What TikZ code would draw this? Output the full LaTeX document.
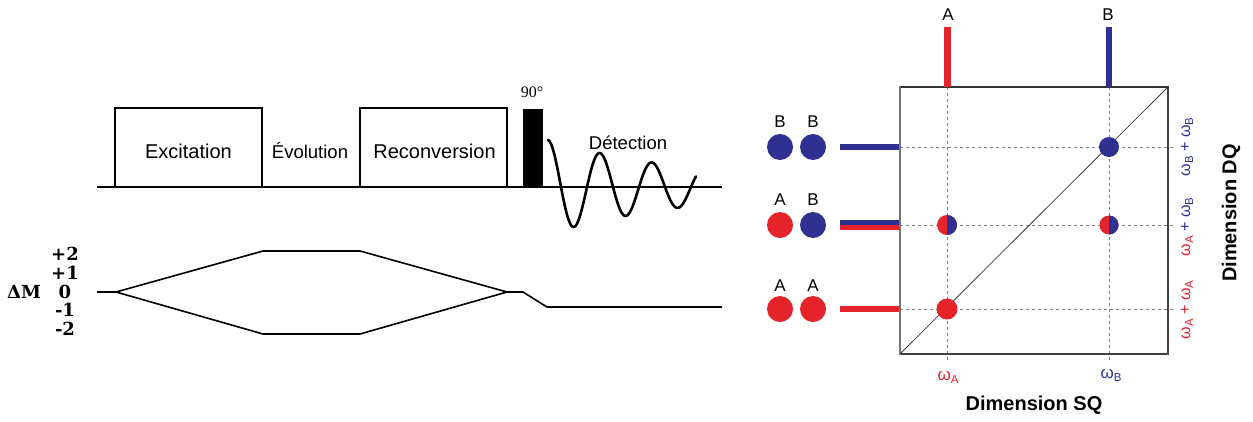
\documentclass[tikz,border=0pt]{standalone}
\usepackage{fontspec}
\setmainfont{Liberation Sans}
\newfontfamily\slabfont{DejaVu Serif}
\newfontfamily\tmsfont{Liberation Serif}
\definecolor{pred}{HTML}{E5232B}
\definecolor{pblue}{HTML}{2E3192}
\newcommand{\fsz}[1]{\fontsize{#1}{#1}\selectfont}
\newcommand{\om}[1]{ω\raisebox{-3pt}{\fsz{11.5}#1}}
\begin{document}
\begin{tikzpicture}[x=1pt,y=-1pt,
  txt/.style={inner sep=0pt, font=\fsz{20}},
  seqbox/.style={draw, line width=1.5pt, inner sep=0pt},
  seqline/.style={line width=1.6pt, line join=round},
  dmlbl/.style={inner sep=0pt, font=\slabfont\bfseries\fsz{18}},
  atomlbl/.style={inner sep=0pt, font=\fsz{17}},
  atom/.style={circle, inner sep=0pt, minimum size=26pt},
  guide/.style={draw=black!50, line width=0.8pt, dash pattern=on 3pt off 3pt},
  axlbl/.style={inner sep=0pt, font=\bfseries\fsz{20}},
  wlbl/.style={inner sep=0pt, font=\fsz{17}},
  sumlbl/.style={inner sep=0pt, font=\fsz{16}, rotate=90}
]
\useasboundingbox (0,0) rectangle (1253,421);

% ---------------- pulse sequence ----------------
\draw[seqline] (97,187) -- (722,187);
\draw[seqbox] (115,108) rectangle (262,187);
\draw[seqbox] (360,108) rectangle (507,187);
\node[txt] (exc) at (188.5,151.5) {Excitation};
\node[txt, font=\fsz{18.5}] (evo) at (310,151) {Évolution};
\node[txt] (rec) at (434.5,151.5) {Reconversion};
\fill (523,109) rectangle (543,187);
\node[inner sep=0pt, font=\tmsfont\fsz{16}] (p90) at (532,92) {90°};
\node[txt, font=\fsz{18.5}] (det) at (628,142.5) {Détection};
\draw[line width=2.6pt, line cap=round, domain=0:148, samples=160, smooth]
  plot ({548+\x},{187-47*exp(-\x/160)*cos(6.923*\x)});

% ---------------- coherence pathway ----------------
\coordinate (s0) at (97,292);
\coordinate (s1) at (116,292);
\coordinate (u1) at (263,251);
\coordinate (u2) at (360,251);
\coordinate (l1) at (263,334);
\coordinate (l2) at (360,334);
\coordinate (c1) at (507,292);
\coordinate (c2) at (523,292);
\coordinate (d1) at (547,307);
\coordinate (d2) at (722,307);
\draw[seqline] (s0) -- (s1) -- (u1) -- (u2) -- (c1) -- (c2) -- (d1) -- (d2);
\draw[seqline] (s1) -- (l1) -- (l2) -- (c1);
\node[dmlbl] (dm) at (24,292) {ΔM};
\node[dmlbl] (p2) at (65,254) {+2};
\node[dmlbl] (p1) at (65,273) {+1};
\node[dmlbl] (z0) at (65,292) {0};
\node[dmlbl] (m1) at (65,310) {-1};
\node[dmlbl] (m2) at (65,329) {-2};

% ---------------- 2D spectrum ----------------
% guides
\draw[guide] (947,87) -- (947,362);
\draw[guide] (1109,87) -- (1109,362);
\draw[guide] (900,147) -- (1173,147);
\draw[guide] (900,225) -- (1173,225);
\draw[guide] (900,309) -- (1173,309);
% frame
\draw[line width=1.5pt, draw=black!75] (900,87) rectangle (1168,354);
\draw[line width=2.5pt, draw=black!80] (899,87) -- (1168,87);
\draw[line width=2.8pt, draw=black!55] (900,86) -- (900,355);
\draw[line width=0.8pt, draw=black!75] (900,354) -- (1168,87);

% top projection
\draw[pred, line width=7pt] (947,27) -- (947,87);
\draw[pblue, line width=6pt] (1109,27) -- (1109,87);
\node[atomlbl] (tA) at (948,15) {A};
\node[atomlbl] (tB) at (1108,15) {B};

% left projection bars
\draw[pblue, line width=6pt] (840,147) -- (899,147);
\draw[pred, line width=5.5pt] (840,226.75) -- (899,226.75);
\draw[pblue, line width=5pt] (840,222) -- (899,222);
\draw[pred, line width=6pt] (840,309) -- (899,309);

% atom pairs
\node[atom, fill=pblue] (bb1) at (780,147) {};
\node[atom, fill=pblue] (bb2) at (813,147) {};
\node[atomlbl] at (780,121.5) {B};
\node[atomlbl] at (813,121.5) {B};
\node[atom, fill=pred] (ab1) at (780,225) {};
\node[atom, fill=pblue] (ab2) at (813,225) {};
\node[atomlbl] at (780,200) {A};
\node[atomlbl] at (813,200) {B};
\node[atom, fill=pred] (aa1) at (780,309) {};
\node[atom, fill=pred] (aa2) at (813,309) {};
\node[atomlbl] at (780,285.5) {A};
\node[atomlbl] at (813,285.5) {A};

% cross peaks
\fill[pblue] (1109,147) circle (10);
\fill[pred] (947,309) circle (10.5);
\fill[pred] (947,225) circle (10);
\begin{scope}
  \clip (947,210) rectangle (962,240);
  \fill[pblue] (947,225) circle (10);
\end{scope}
\fill[pred] (1109,225) circle (9.5);
\begin{scope}
  \clip (1109,210) rectangle (1124,240);
  \fill[pblue] (1109,225) circle (9.5);
\end{scope}

% axis labels
\node[wlbl, text=pred] (wa) at (948,377) {\om{A}};
\node[wlbl, text=pblue] (wb) at (1111,375) {\om{B}};
\node[sumlbl, text=pblue] (s3) at (1187,147) {\om{B} + \om{B}};
\node[sumlbl] (s2) at (1187,227) {\textcolor{pred}{\om{A}} \textcolor{pblue}{+ \om{B}}};
\node[sumlbl, text=pred] (s1l) at (1187,310) {\om{A} + \om{A}};
\node[axlbl] (sq) at (1034,405) {Dimension SQ};
\node[axlbl, rotate=90] (dq) at (1231,213) {Dimension DQ};
\end{tikzpicture}
\end{document}
